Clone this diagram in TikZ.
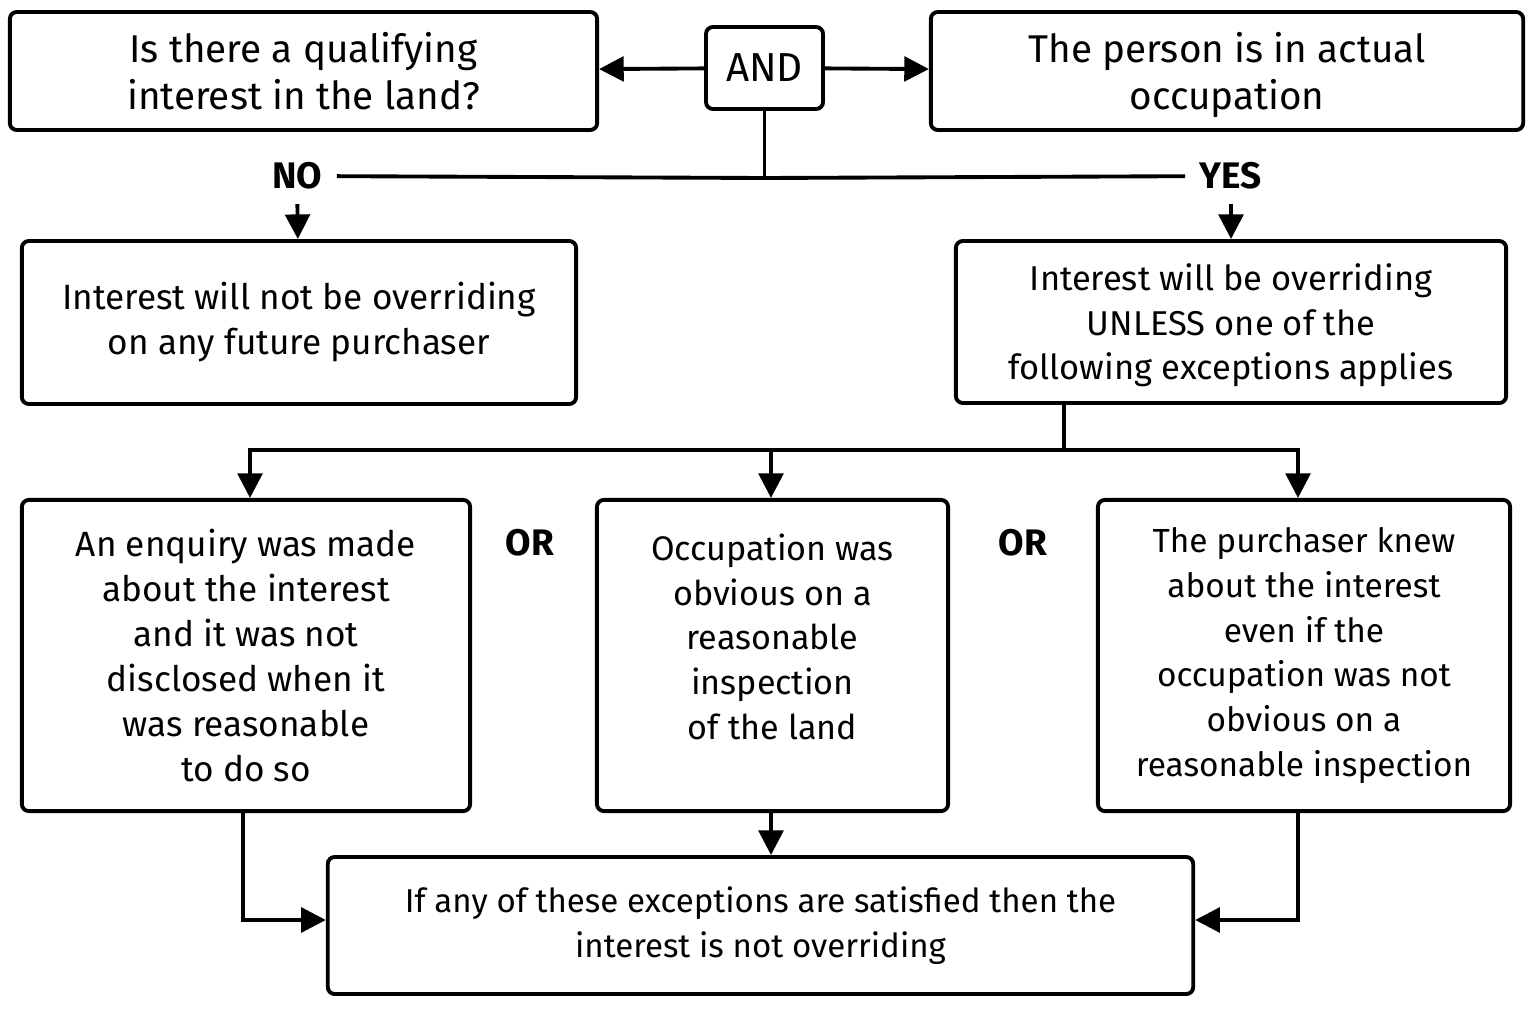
\documentclass[tikz,border=0pt]{standalone}
\usepackage{fontspec}
\setmainfont{Fira Sans}
\usetikzlibrary{arrows.meta,positioning}
\tikzset{
  box/.style={draw=black, line width=1.1pt, rounded corners=2pt, align=center, inner sep=0pt, font=\fontsize{10}{12.8}\selectfont},
  tag/.style={font=\bfseries\fontsize{10.5}{13}\selectfont, inner sep=4pt},
  link/.style={line width=1.1pt, draw=black},
  flow/.style={-{Triangle[length=7pt, width=7pt]}, line width=1.1pt, draw=black}
}

\begin{document}
\begin{tikzpicture}[x=0.01cm, y=-0.01cm]
  \useasboundingbox (0,0) rectangle (1536,1012);

  % top row
  \node[box, font=\fontsize{11}{13.4}\selectfont, minimum width=5.87cm, minimum height=1.18cm] (qual) at (303.5,71) {Is there a qualifying\\interest in the land?};
  \node[box, font=\fontsize{11.5}{13.4}\selectfont, minimum width=1.17cm, minimum height=0.82cm] (and) at (764.5,68) {AND};
  \node[box, font=\fontsize{11}{13.4}\selectfont, text height=0.85cm, minimum width=5.92cm, minimum height=1.18cm] (occ) at (1227,71) {The person is in actual\\occupation};

  \draw[flow] (and) -- (qual);
  \draw[flow] (and) -- (occ);

  % branch labels
  \node[tag] (no) at (297,176) {NO};
  \node[tag] (yes) at (1231,176) {YES};
  \coordinate (split) at (764.5,178);
  \draw[link] (and) -- (split);
  \draw[link] (no) -- (split) -- (yes);

  % outcomes
  \node[box, minimum width=5.54cm, minimum height=1.63cm] (notover) at (299,322.5) {Interest will not be overriding\\on any future purchaser};
  \node[box, font=\fontsize{9.8}{12.6}\selectfont, text height=1.22cm, minimum width=5.50cm, minimum height=1.62cm] (over) at (1231,322) {Interest will be overriding\\UNLESS one of the\\following exceptions applies};

  \draw[flow] (no) -- (notover);
  \draw[flow] (yes) -- (over);

  % exceptions
  \node[box, minimum width=4.48cm, minimum height=3.11cm] (enq) at (246,655.5) {An enquiry was made\\about the interest\\and it was not\\disclosed when it\\was reasonable\\to do so};
  \node[box, font=\fontsize{9.7}{12.7}\selectfont, text depth=0.38cm, minimum width=3.51cm, minimum height=3.11cm] (obv) at (772.5,655.5) {Occupation was\\obvious on a\\reasonable\\inspection\\of the land};
  \node[box, font=\fontsize{9.5}{12.7}\selectfont, minimum width=4.12cm, minimum height=3.11cm] (knew) at (1304,655.5) {The purchaser knew\\about the interest\\even if the\\occupation was not\\obvious on a\\reasonable inspection};

  \node[tag] (or1) at (530,543) {OR};
  \node[tag] (or2) at (1023,543) {OR};

  \coordinate (fork) at (1064,450);
  \draw[link] (over.south -| fork) -- (fork);
  \draw[flow] (fork) -| ([xshift=0.04cm]enq.north);
  \draw[flow] (fork) -| ([xshift=-0.015cm]obv.north);
  \draw[flow] (fork) -| ([xshift=-0.06cm]knew.north);

  % result
  \node[box, font=\fontsize{9.4}{12.8}\selectfont, minimum width=8.65cm, minimum height=1.37cm] (result) at (760.5,925.5) {If any of these exceptions are satisfied then the\\interest is not overriding};

  \draw[flow] ([xshift=-0.03cm]enq.south) |- ([yshift=0.055cm]result.west);
  \draw[flow] ([xshift=-0.015cm]obv.south) -- ([xshift=-0.015cm]obv.south |- result.north);
  \draw[flow] ([xshift=-0.06cm]knew.south) |- ([yshift=0.055cm]result.east);
\end{tikzpicture}
\end{document}
